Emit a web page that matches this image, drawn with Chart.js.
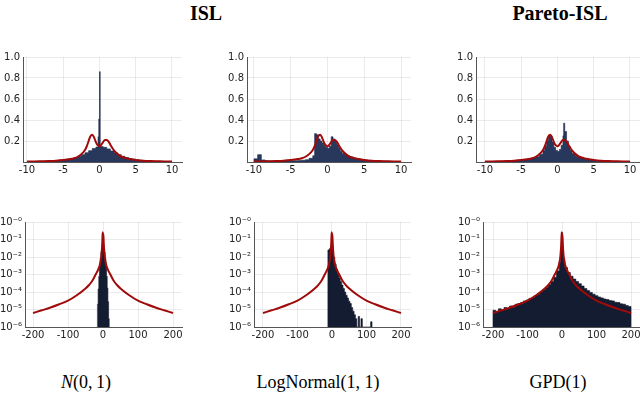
<!DOCTYPE html>
<html>
<head>
<meta charset="utf-8">
<script src="https://cdn.jsdelivr.net/npm/chart.js@4/dist/chart.umd.min.js"></script>
<style>
  html, body { margin: 0; padding: 0; background: #fff; }
  body { width: 640px; height: 398px; position: relative; overflow: hidden; }
  canvas { position: absolute; }
  .lbl { position: absolute; font-family: "Liberation Serif", "DejaVu Serif", serif; color: #000; white-space: nowrap; transform: translate(-50%, -50%); }
  .title { font-weight: bold; font-size: 20px; }
  .sub { font-size: 18px; }
</style>
</head>
<body>
<div class="lbl title" style="left:206px; top:13px;">ISL</div>
<div class="lbl title" style="left:560px; top:13px;">Pareto-ISL</div>
<div class="lbl sub" style="left:86px; top:382px;"><i>N</i>(0,&#8201;1)</div>
<div class="lbl sub" style="left:318px; top:382px;">LogNormal(1, 1)</div>
<div class="lbl sub" style="left:558px; top:382px;">GPD(1)</div>
<script>
// ---------- tick labels ----------
const xTicksTop = [-10, -5, 0, 5, 10];
const yTicksTop = [0, 0.2, 0.4, 0.6, 0.8, 1.0];
const xTicksLog = [-200, -100, 0, 100, 200];
const yTicksLog = [1e-6, 1e-5, 1e-4, 1e-3, 1e-2, 1e-1, 1];

// ---------- fitted density (red), top row ----------
const redTopX = [-10,-9,-8,-7,-6,-5,-4,-3.5,-3,-2.5,-2,-1.75,-1.5,-1.25,-1,-0.75,-0.5,-0.25,0,0.25,0.5,0.75,1,1.25,1.5,1.75,2,2.5,3,3.5,4,5,6,7,8,9,10];
const redTopY = [0.004,0.005,0.007,0.009,0.012,0.018,0.028,0.036,0.05,0.075,0.115,0.15,0.2,0.245,0.26,0.235,0.19,0.16,0.15,0.165,0.19,0.21,0.21,0.195,0.165,0.135,0.11,0.075,0.05,0.04,0.03,0.02,0.013,0.009,0.007,0.005,0.004];

// ---------- fitted density (red), bottom row (log scale) ----------
const redLogX = [-200,-175,-150,-125,-100,-75,-50,-40,-30,-20,-15,-10,-7,-5,-3,-2,-1,0,1,2,3,5,7,10,15,20,30,40,50,75,100,125,150,175,200];
const redLogY = [6.3e-6,9e-6,1.3e-5,2e-5,3.2e-5,6.5e-5,1.6e-4,2.5e-4,4.5e-4,1.1e-3,1.7e-3,3e-3,5.5e-3,0.01,0.03,0.07,0.26,0.15,0.21,0.07,0.03,0.01,5.5e-3,3e-3,1.7e-3,1.1e-3,4.5e-4,2.5e-4,1.6e-4,6.5e-5,3.2e-5,2e-5,1.3e-5,9e-6,6.3e-6];

// ---------- histogram: N(0,1), ISL ----------
const edgesTL = [-10,-9.5,-9,-8.5,-8,-7.5,-7,-6.5,-6,-5.5,-5,-4.5,-4,-3.5,-3,-2.5,-2,-1.5,-1,-0.5,-0.2,-0.1,0,0.1,0.5,1,1.5,2,2.5,3,3.5,4,4.5,5,5.5,6,6.5,7,7.5,8,8.5,9,9.5,10];
const heightsTL = [0.003,0.004,0.004,0.005,0.006,0.007,0.009,0.011,0.013,0.017,0.021,0.027,0.034,0.043,0.055,0.07,0.088,0.108,0.128,0.142,0.24,0.41,0.86,0.148,0.14,0.125,0.105,0.087,0.07,0.055,0.043,0.034,0.027,0.021,0.017,0.013,0.011,0.009,0.007,0.006,0.005,0.004,0.003];

// ---------- histogram: LogNormal(1,1), ISL ----------
const edgesTM = [-10,-9.5,-9,-8.5,-8,-7.5,-7,-6.5,-6,-5.5,-5,-4.5,-4,-3.5,-3,-2.5,-2,-1.75,-1.5,-1.25,-1,-0.75,-0.5,-0.25,0,0.25,0.5,0.75,1,1.25,1.5,1.75,2,2.5,3,3.5,4,4.5,5,5.5,6,6.5,7,7.5,8,8.5,9,9.5,10];
const heightsTM = [0.03,0.07,0.02,0.012,0.01,0.01,0.01,0.011,0.011,0.012,0.012,0.013,0.014,0.017,0.022,0.035,0.06,0.27,0.26,0.22,0.2,0.18,0.16,0.14,0.13,0.15,0.24,0.22,0.2,0.17,0.13,0.1,0.08,0.06,0.048,0.038,0.03,0.024,0.019,0.015,0.012,0.01,0.008,0.007,0.006,0.005,0.004,0.004];

// ---------- histogram: GPD(1), Pareto-ISL ----------
const edgesTR = [-10,-9,-8,-7,-6,-5,-4,-3.5,-3,-2.5,-2,-1.75,-1.5,-1.25,-1,-0.75,-0.5,-0.25,0,0.25,0.5,0.75,0.85,1,1.25,1.5,1.75,2,2.5,3,3.5,4,5,6,7,8,9,10];
const heightsTR = [0.004,0.005,0.007,0.009,0.013,0.02,0.03,0.038,0.05,0.075,0.11,0.15,0.2,0.25,0.25,0.19,0.14,0.11,0.1,0.12,0.16,0.25,0.37,0.29,0.2,0.15,0.11,0.08,0.055,0.042,0.032,0.022,0.014,0.01,0.007,0.005,0.004];

// ---------- log-scale histograms ----------
const edgesBL = [-16,-14,-12,-10,-8,-6,-4,-2,0,2,4,6,8,10,12,14,16,18];
const heightsBL = [2e-5,1.5e-4,8e-4,3e-3,8.5e-3,0.02,0.033,0.044,0.045,0.032,0.019,8.5e-3,3.1e-3,8e-4,1.7e-4,2.8e-5,3e-6];

const edgesBM = [-12,-8,-4,0,4,8,12,16,20,24,28,32,36,40,44,48,52,56,60,64,68,72,76,80,84,88,92,96,100,104,108,112,116];
const heightsBM = [0.025,0.03,0.04,0.035,0.01,4e-3,2e-3,1.1e-3,6.5e-4,4e-4,2.5e-4,1.6e-4,1e-4,6.5e-5,4.5e-5,3e-5,2.2e-5,1.3e-5,8e-6,5e-6,3e-6,0,4e-6,0,3e-6,0,0,0,0,0,0,2e-6];

const edgesBR = [-200,-192,-184,-176,-168,-160,-152,-144,-136,-128,-120,-112,-104,-96,-88,-80,-72,-64,-56,-48,-40,-32,-24,-16,-8,-4,-2,-1,0,1,2,4,8,16,24,32,40,48,56,64,72,80,88,96,104,112,120,128,136,144,152,160,168,176,184,192,200];
const heightsBR = [9e-6,7.5e-6,1.1e-5,9.5e-6,1.3e-5,1.15e-5,1.6e-5,1.35e-5,2e-5,2.2e-5,2.5e-5,3.1e-5,3.5e-5,4.3e-5,4.9e-5,6.2e-5,7.4e-5,1e-4,1.3e-4,1.8e-4,2.6e-4,4e-4,7e-4,1.6e-3,5e-3,0.02,0.08,0.22,0.25,0.12,0.035,8e-3,2.5e-3,1.3e-3,8e-4,5.5e-4,4e-4,3e-4,2.2e-4,1.6e-4,1.2e-4,9.5e-5,7.5e-5,6.2e-5,5.2e-5,4.6e-5,4e-5,3.7e-5,3.3e-5,3.1e-5,2.6e-5,2.5e-5,2.1e-5,2e-5,1.7e-5,1.5e-5];

// ---------- helpers ----------
Chart.defaults.font.family = "'DejaVu Sans', sans-serif";
Chart.defaults.font.size = 10;
Chart.defaults.color = '#222';

const SUP = {'0':'⁰','1':'¹','2':'²','3':'³','4':'⁴','5':'⁵','6':'⁶','7':'⁷','8':'⁸','9':'⁹'};
const RED = '#a00a0a';
const GRID = 'rgba(0,0,0,0.08)';
const AXIS = '#555';

function histPoints(edges, heights, floor) {
  const hv = h => (h > 0 ? h : floor);
  const pts = [{x: edges[0], y: floor}];
  heights.forEach((h, i) => pts.push({x: edges[i], y: hv(h)}));
  pts.push({x: edges[edges.length - 1], y: hv(heights[heights.length - 1])});
  pts.push({x: edges[edges.length - 1], y: floor});
  return pts;
}
function linePoints(xs, ys) { return xs.map((x, i) => ({x, y: ys[i]})); }

const YW = 40, XH = 22, PT = 6, PR = 6;

function panel(box, xr, isLog, hist, red, histColor) {
  const c = document.createElement('canvas');
  const W = (box.r - box.l) + YW + PR, H = (box.b - box.t) + PT + XH;
  c.width = W; c.height = H;
  c.style.left = (box.l - YW) + 'px';
  c.style.top = (box.t - PT) + 'px';
  c.style.width = W + 'px'; c.style.height = H + 'px';
  document.body.appendChild(c);
  const floor = isLog ? 1e-6 : 0;
  const xt = isLog ? xTicksLog : xTicksTop;
  const yt = isLog ? yTicksLog : yTicksTop;
  new Chart(c, {
    type: 'line',
    data: {
      datasets: [
        { data: linePoints(red[0], red[1]), borderColor: RED, borderWidth: 2, pointRadius: 0,
          cubicInterpolationMode: 'monotone', fill: false },
        { data: histPoints(hist[0], hist[1], floor), borderColor: histColor.line, borderWidth: 0.6,
          backgroundColor: histColor.fill, pointRadius: 0, stepped: 'before', fill: 'start', tension: 0 }
      ]
    },
    options: {
      responsive: false, animation: false, devicePixelRatio: 1,
      layout: { padding: { left: 0, top: PT, right: PR, bottom: 0 } },
      plugins: { legend: { display: false }, tooltip: { enabled: false } },
      events: [],
      scales: {
        x: {
          type: 'linear', min: xr[0], max: xr[1],
          afterBuildTicks: s => { s.ticks = xt.map(v => ({value: v})); },
          afterFit: s => { s.height = XH; },
          ticks: { autoSkip: false, maxRotation: 0, padding: 2, color: '#222',
                   callback: v => String(v) },
          grid: { color: GRID, drawTicks: false },
          border: { display: true, color: AXIS, width: 1 }
        },
        y: {
          type: isLog ? 'logarithmic' : 'linear',
          min: isLog ? 1e-6 : 0, max: 1,
          afterBuildTicks: s => { s.ticks = yt.map(v => ({value: v})); },
          afterFit: s => { s.width = YW; },
          ticks: { autoSkip: false, padding: 3, color: '#222',
                   callback: v => {
                     if (isLog) {
                       const k = -Math.round(Math.log10(v));
                       return '10⁻' + String(k).split('').map(d => SUP[d]).join('');
                     }
                     return v === 0 ? '' : v.toFixed(1);
                   } },
          grid: { color: GRID, drawTicks: false },
          border: { display: true, color: AXIS, width: 1 }
        }
      }
    }
  });
}

const topCol = { fill: '#28385d', line: '#1b2646' };
const botCol = { fill: '#141c31', line: '#0f1526' };

panel({l: 23, r: 182, t: 54, b: 162}, [-10.55, 11.38], false, [edgesTL, heightsTL], [redTopX, redTopY], topCol);
panel({l: 247, r: 411, t: 54, b: 162}, [-10.95, 11.36], false, [edgesTM, heightsTM], [redTopX, redTopY], topCol);
panel({l: 476, r: 640, t: 54, b: 162}, [-11.24, 11.38], false, [edgesTR, heightsTR], [redTopX, redTopY], topCol);
panel({l: 25, r: 182, t: 219, b: 327}, [-222.9, 225.7], true, [edgesBL, heightsBL], [redLogX, redLogY], botCol);
panel({l: 254, r: 411, t: 219, b: 327}, [-226, 229], true, [edgesBM, heightsBM], [redLogX, redLogY], botCol);
panel({l: 483, r: 640, t: 219, b: 327}, [-229, 226], true, [edgesBR, heightsBR], [redLogX, redLogY], botCol);
</script>
</body>
</html>
